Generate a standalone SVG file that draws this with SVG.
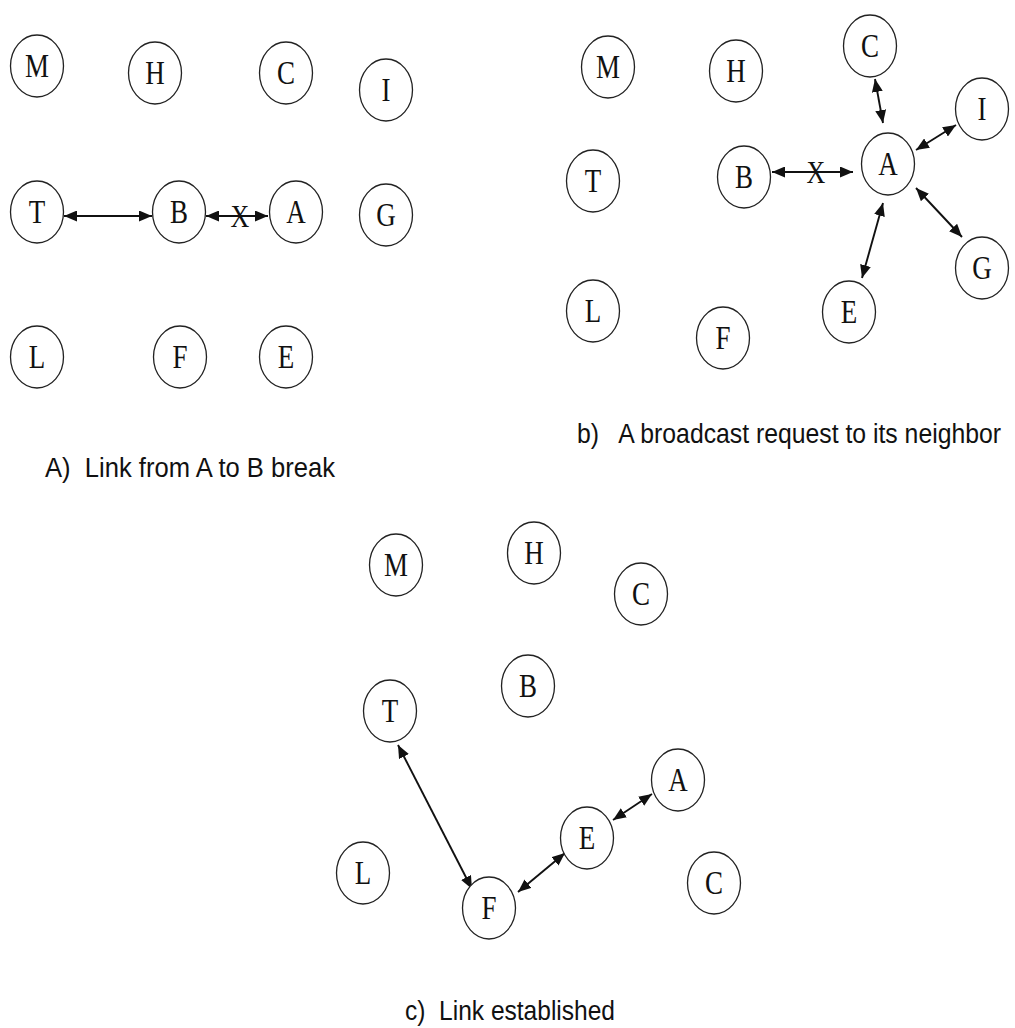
<svg xmlns="http://www.w3.org/2000/svg" width="1015" height="1028" viewBox="0 0 1015 1028">
<style>
.n ellipse{fill:#fff;stroke:#222;stroke-width:1.3}
.n text{font-family:"Liberation Serif","Times New Roman",serif;font-size:27px;fill:#111;text-anchor:middle}
.e line{stroke:#111;stroke-width:1.9;marker-start:url(#ah);marker-end:url(#ah)}
.x{font-family:"Liberation Serif",serif;font-size:26px;fill:#111;text-anchor:middle}
.cap{font-family:"Liberation Sans Narrow","Liberation Sans",Arial,sans-serif;font-size:23px;fill:#111}
</style>
<defs>
<marker id="ah" viewBox="0 0 13 11" refX="13" refY="5.5" markerWidth="13" markerHeight="11" markerUnits="userSpaceOnUse" orient="auto-start-reverse">
<path d="M0,0 L13,5.5 L0,11 Z" fill="#111"/>
</marker>
</defs>
<rect width="1015" height="1028" fill="#fff"/>

<g id="connectors" class="e">
<line x1="64" y1="216" x2="152" y2="216"/>
<line x1="206" y1="216" x2="268" y2="216"/>
<line x1="772" y1="172" x2="853" y2="172"/>
<line x1="875" y1="79" x2="883" y2="123"/>
<line x1="956" y1="125" x2="916" y2="150"/>
<line x1="916" y1="188" x2="962" y2="237"/>
<line x1="883" y1="203" x2="862" y2="278"/>
<line x1="398" y1="745" x2="472" y2="889"/>
<line x1="518" y1="892" x2="565" y2="853"/>
<line x1="613" y1="820" x2="652" y2="794"/>
</g>
<text class="x" transform="translate(240,227) scale(1,1.2)">X</text>
<text class="x" transform="translate(816,183) scale(1,1.2)">X</text>

<g id="a-M" class="n"><ellipse cx="37" cy="66" rx="26.5" ry="31"/><text transform="translate(37,77) scale(1,1.22)">M</text></g>
<g id="a-H" class="n"><ellipse cx="155" cy="73" rx="26.5" ry="31"/><text transform="translate(155,84) scale(1,1.22)">H</text></g>
<g id="a-C" class="n"><ellipse cx="286" cy="73" rx="26.5" ry="31"/><text transform="translate(286,84) scale(1,1.22)">C</text></g>
<g id="a-I" class="n"><ellipse cx="386" cy="90" rx="26.5" ry="31"/><text transform="translate(386,101) scale(1,1.22)">I</text></g>
<g id="a-T" class="n"><ellipse cx="37" cy="212" rx="26.5" ry="31"/><text transform="translate(37,223) scale(1,1.22)">T</text></g>
<g id="a-B" class="n"><ellipse cx="179" cy="212" rx="26.5" ry="31"/><text transform="translate(179,223) scale(1,1.22)">B</text></g>
<g id="a-A" class="n"><ellipse cx="296" cy="212" rx="26.5" ry="31"/><text transform="translate(296,223) scale(1,1.22)">A</text></g>
<g id="a-G" class="n"><ellipse cx="386" cy="215" rx="26.5" ry="31"/><text transform="translate(386,226) scale(1,1.22)">G</text></g>
<g id="a-L" class="n"><ellipse cx="37" cy="357" rx="26.5" ry="31"/><text transform="translate(37,368) scale(1,1.22)">L</text></g>
<g id="a-F" class="n"><ellipse cx="180" cy="357" rx="26.5" ry="31"/><text transform="translate(180,368) scale(1,1.22)">F</text></g>
<g id="a-E" class="n"><ellipse cx="286" cy="357" rx="26.5" ry="31"/><text transform="translate(286,368) scale(1,1.22)">E</text></g>

<g id="b-M" class="n"><ellipse cx="608" cy="67" rx="26.5" ry="31"/><text transform="translate(608,78) scale(1,1.22)">M</text></g>
<g id="b-H" class="n"><ellipse cx="736" cy="71" rx="26.5" ry="31"/><text transform="translate(736,82) scale(1,1.22)">H</text></g>
<g id="b-C" class="n"><ellipse cx="870" cy="46" rx="26.5" ry="31"/><text transform="translate(870,57) scale(1,1.22)">C</text></g>
<g id="b-I" class="n"><ellipse cx="982" cy="109" rx="26.5" ry="31"/><text transform="translate(982,120) scale(1,1.22)">I</text></g>
<g id="b-T" class="n"><ellipse cx="593" cy="181" rx="26.5" ry="31"/><text transform="translate(593,192) scale(1,1.22)">T</text></g>
<g id="b-B" class="n"><ellipse cx="744" cy="177" rx="26.5" ry="31"/><text transform="translate(744,188) scale(1,1.22)">B</text></g>
<g id="b-A" class="n"><ellipse cx="888" cy="164" rx="26.5" ry="31"/><text transform="translate(888,175) scale(1,1.22)">A</text></g>
<g id="b-G" class="n"><ellipse cx="982" cy="268" rx="26.5" ry="31"/><text transform="translate(982,279) scale(1,1.22)">G</text></g>
<g id="b-E" class="n"><ellipse cx="849" cy="312" rx="26.5" ry="31"/><text transform="translate(849,323) scale(1,1.22)">E</text></g>
<g id="b-L" class="n"><ellipse cx="593" cy="311" rx="26.5" ry="31"/><text transform="translate(593,322) scale(1,1.22)">L</text></g>
<g id="b-F" class="n"><ellipse cx="723" cy="338" rx="26.5" ry="31"/><text transform="translate(723,349) scale(1,1.22)">F</text></g>

<g id="c-M" class="n"><ellipse cx="396" cy="565" rx="26.5" ry="31"/><text transform="translate(396,576) scale(1,1.22)">M</text></g>
<g id="c-H" class="n"><ellipse cx="534" cy="553" rx="26.5" ry="31"/><text transform="translate(534,564) scale(1,1.22)">H</text></g>
<g id="c-C1" class="n"><ellipse cx="641" cy="594" rx="26.5" ry="31"/><text transform="translate(641,605) scale(1,1.22)">C</text></g>
<g id="c-B" class="n"><ellipse cx="528" cy="686" rx="26.5" ry="31"/><text transform="translate(528,697) scale(1,1.22)">B</text></g>
<g id="c-T" class="n"><ellipse cx="390" cy="711" rx="26.5" ry="31"/><text transform="translate(390,722) scale(1,1.22)">T</text></g>
<g id="c-A" class="n"><ellipse cx="678" cy="780" rx="26.5" ry="31"/><text transform="translate(678,791) scale(1,1.22)">A</text></g>
<g id="c-E" class="n"><ellipse cx="587" cy="838" rx="26.5" ry="31"/><text transform="translate(587,849) scale(1,1.22)">E</text></g>
<g id="c-L" class="n"><ellipse cx="363" cy="873" rx="26.5" ry="31"/><text transform="translate(363,884) scale(1,1.22)">L</text></g>
<g id="c-C2" class="n"><ellipse cx="714" cy="883" rx="26.5" ry="31"/><text transform="translate(714,894) scale(1,1.22)">C</text></g>
<g id="c-F" class="n"><ellipse cx="489" cy="908" rx="26.5" ry="31"/><text transform="translate(489,919) scale(1,1.22)">F</text></g>

<text class="cap" transform="translate(45,477) scale(1,1.22)" textLength="290" lengthAdjust="spacingAndGlyphs" xml:space="preserve">A)  Link from A to B break</text>
<text class="cap" transform="translate(577,443) scale(1,1.22)" textLength="424" lengthAdjust="spacingAndGlyphs" xml:space="preserve">b)   A broadcast request to its neighbor</text>
<text class="cap" transform="translate(405,1020) scale(1,1.22)" textLength="210" lengthAdjust="spacingAndGlyphs" xml:space="preserve">c)  Link established</text>
</svg>
